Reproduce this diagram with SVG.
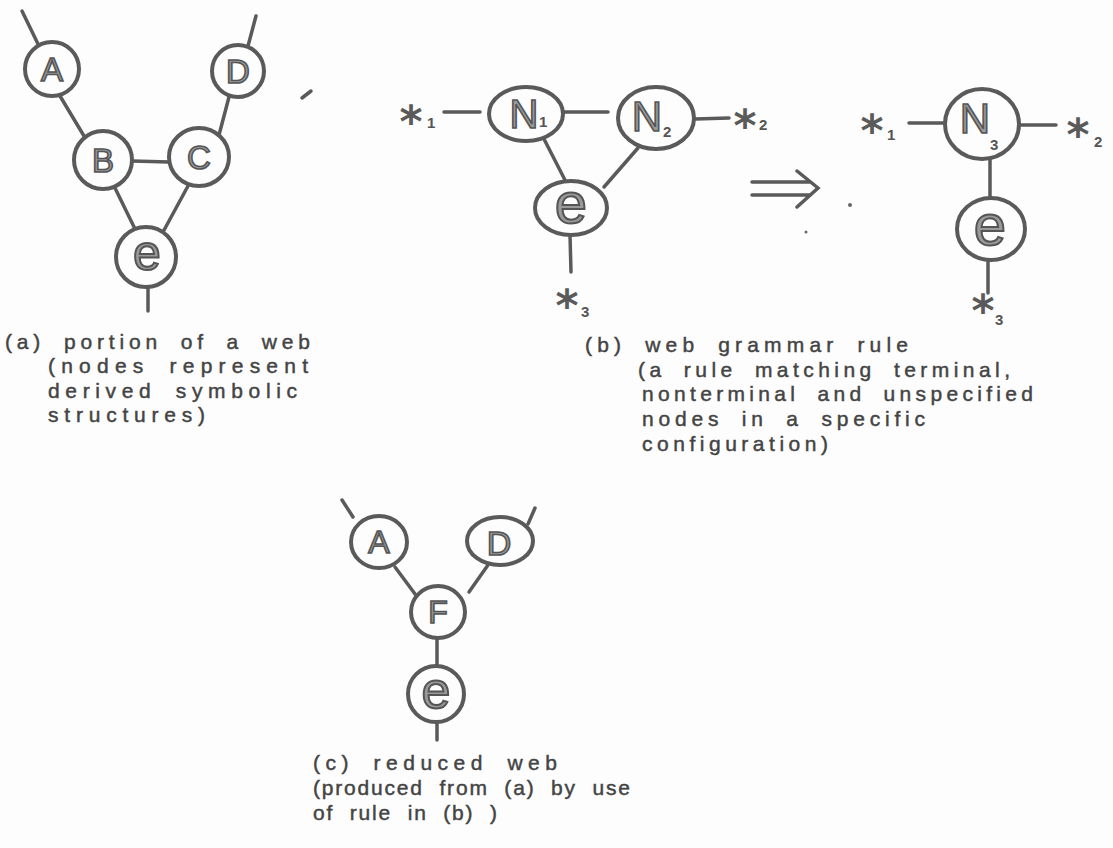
<svg xmlns="http://www.w3.org/2000/svg" width="1113" height="848" viewBox="0 0 1113 848">
<style>
.bg{fill:#fdfdfd}
.nd{fill:#fdfdfd;stroke:#5a5a5a;stroke-width:4}
.ln{fill:none;stroke:#5a5a5a;stroke-width:3.5;stroke-linecap:round}
.lt{font-family:"Liberation Sans",Arial,sans-serif;fill:#9a9a9a;stroke:#555;stroke-width:1.6;text-anchor:middle}
.sp{font-family:"Liberation Sans",Arial,sans-serif;fill:#9a9a9a;stroke:#555;stroke-width:2;text-anchor:middle}
.sub{font-family:"Liberation Sans",Arial,sans-serif;fill:#555;font-weight:bold;font-size:15px}
.st{font-family:"DejaVu Sans",sans-serif;fill:#5a5a5a;font-weight:bold;font-size:44px;text-anchor:middle}
.cap{font-family:"Liberation Sans",Arial,sans-serif;fill:#444;stroke:#444;stroke-width:0.45;font-size:21px;word-spacing:8px}
</style>
<rect class="bg" x="0" y="0" width="1113" height="848"/>

<g id="connectors">
  <!-- panel a -->
  <line class="ln" x1="22" y1="11" x2="38" y2="44"/>
  <line class="ln" x1="60" y1="96" x2="84" y2="136"/>
  <line class="ln" x1="256" y1="16" x2="248" y2="46"/>
  <line class="ln" x1="229" y1="97" x2="219" y2="135"/>
  <line class="ln" x1="132" y1="161" x2="169" y2="162"/>
  <line class="ln" x1="115" y1="188" x2="136" y2="231"/>
  <line class="ln" x1="188" y1="186" x2="163" y2="232"/>
  <line class="ln" x1="148" y1="287" x2="148" y2="311"/>
  <line class="ln" x1="302" y1="98" x2="311" y2="91"/>
  <!-- panel b -->
  <line class="ln" x1="444" y1="112" x2="480" y2="112"/>
  <line class="ln" x1="564" y1="112" x2="608" y2="112"/>
  <line class="ln" x1="695" y1="119" x2="729" y2="118"/>
  <line class="ln" x1="544" y1="139" x2="566" y2="182"/>
  <line class="ln" x1="638" y1="148" x2="604" y2="187"/>
  <line class="ln" x1="570" y1="235" x2="571" y2="272"/>
  <!-- arrow -->
  <path class="ln" d="M752 182 H810 M752 195 H810 M797 171 L818 188 L797 207"/>
  <!-- right of b -->
  <line class="ln" x1="909" y1="123" x2="944" y2="123"/>
  <line class="ln" x1="1020" y1="125" x2="1056" y2="125"/>
  <line class="ln" x1="990" y1="159" x2="990" y2="199"/>
  <line class="ln" x1="988" y1="260" x2="988" y2="293"/>
  <!-- panel c -->
  <line class="ln" x1="342" y1="500" x2="353" y2="517"/>
  <line class="ln" x1="395" y1="567" x2="418" y2="598"/>
  <line class="ln" x1="535" y1="508" x2="528" y2="524"/>
  <line class="ln" x1="488" y1="565" x2="469" y2="592"/>
  <line class="ln" x1="437" y1="638" x2="437" y2="667"/>
  <line class="ln" x1="437" y1="721" x2="437" y2="740"/>
</g>

<!-- panel (a) -->
<g id="a-A"><ellipse class="nd" cx="52" cy="69" rx="27" ry="27"/><text class="lt" x="52" y="81" font-size="33">A</text></g>
<g id="a-D"><ellipse class="nd" cx="238" cy="71" rx="26" ry="26"/><text class="lt" x="238" y="83" font-size="33">D</text></g>
<g id="a-B"><ellipse class="nd" cx="103" cy="160" rx="29" ry="29"/><text class="lt" x="103" y="172" font-size="33">B</text></g>
<g id="a-C"><ellipse class="nd" cx="199" cy="157" rx="30" ry="29"/><text class="lt" x="199" y="169" font-size="33">C</text></g>
<g id="a-e"><ellipse class="nd" cx="146" cy="257" rx="30" ry="30"/><text class="sp" x="147" y="270" font-size="50">e</text></g>

<!-- panel (b) -->
<g id="b-star1"><text class="st" x="411" y="137">*</text><text class="sub" x="427" y="128">1</text></g>
<g id="b-N1"><ellipse class="nd" cx="526" cy="114" rx="37" ry="27"/><text class="lt" x="524" y="128" font-size="40">N</text><text class="sub" x="539" y="127">1</text></g>
<g id="b-N2"><ellipse class="nd" cx="656" cy="118" rx="38" ry="31"/><text class="lt" x="647" y="131" font-size="42">N</text><text class="sub" x="663" y="137">2</text></g>
<g id="b-star2"><text class="st" x="745" y="141">*</text><text class="sub" x="759" y="130">2</text></g>
<g id="b-e"><ellipse class="nd" cx="571" cy="208" rx="36" ry="27"/><text class="sp" x="571" y="223" font-size="58">e</text></g>
<g id="b-star3"><text class="st" x="567" y="321">*</text><text class="sub" x="581" y="317">3</text></g>

<g id="r-star1"><text class="st" x="872" y="146">*</text><text class="sub" x="887" y="140">1</text></g>
<g id="r-N3"><ellipse class="nd" cx="982" cy="124" rx="37" ry="35"/><text class="lt" x="975" y="133" font-size="42">N</text><text class="sub" x="990" y="150">3</text></g>
<g id="r-star2"><text class="st" x="1078" y="150">*</text><text class="sub" x="1094" y="147">2</text></g>
<g id="r-e"><ellipse class="nd" cx="991" cy="229" rx="34" ry="31"/><text class="sp" x="990" y="245" font-size="58">e</text></g>
<g id="r-star3"><text class="st" x="983" y="326">*</text><text class="sub" x="995" y="325">3</text></g>

<!-- panel (c) -->
<g id="c-A"><ellipse class="nd" cx="379" cy="542" rx="28" ry="26"/><text class="lt" x="379" y="553" font-size="32">A</text></g>
<g id="c-D"><ellipse class="nd" cx="500" cy="541" rx="33" ry="24"/><text class="lt" x="499" y="555" font-size="34">D</text></g>
<g id="c-F"><ellipse class="nd" cx="438" cy="612" rx="27" ry="26"/><text class="lt" x="438" y="623" font-size="32">F</text></g>
<g id="c-e"><ellipse class="nd" cx="436" cy="694" rx="28" ry="28"/><text class="sp" x="436" y="708" font-size="52">e</text></g>

<!-- specks -->
<circle cx="850" cy="205" r="2" fill="#666"/>
<circle cx="806" cy="232" r="1.5" fill="#666"/>

<!-- captions -->
<g id="caption-a">
  <text class="cap" x="5" y="349" textLength="305" lengthAdjust="spacing">(a) portion of a web</text>
  <text class="cap" x="48" y="373" textLength="260" lengthAdjust="spacing">(nodes represent</text>
  <text class="cap" x="48" y="398" textLength="249" lengthAdjust="spacing">derived symbolic</text>
  <text class="cap" x="48" y="422" textLength="157" lengthAdjust="spacing">structures)</text>
</g>
<g id="caption-b">
  <text class="cap" x="585" y="352" textLength="323" lengthAdjust="spacing">(b) web grammar rule</text>
  <text class="cap" x="638" y="377" textLength="372" lengthAdjust="spacing">(a rule matching terminal,</text>
  <text class="cap" x="642" y="401" textLength="391" lengthAdjust="spacing">nonterminal and unspecified</text>
  <text class="cap" x="642" y="426" textLength="283" lengthAdjust="spacing">nodes in a specific</text>
  <text class="cap" x="642" y="451" textLength="186" lengthAdjust="spacing">configuration)</text>
</g>
<g id="caption-c">
  <text class="cap" x="313" y="770" textLength="244" lengthAdjust="spacing">(c) reduced web</text>
  <text class="cap" x="313" y="795" textLength="317" lengthAdjust="spacing">(produced from (a) by use</text>
  <text class="cap" x="313" y="820" textLength="184" lengthAdjust="spacing">of rule in (b) )</text>
</g>
</svg>
